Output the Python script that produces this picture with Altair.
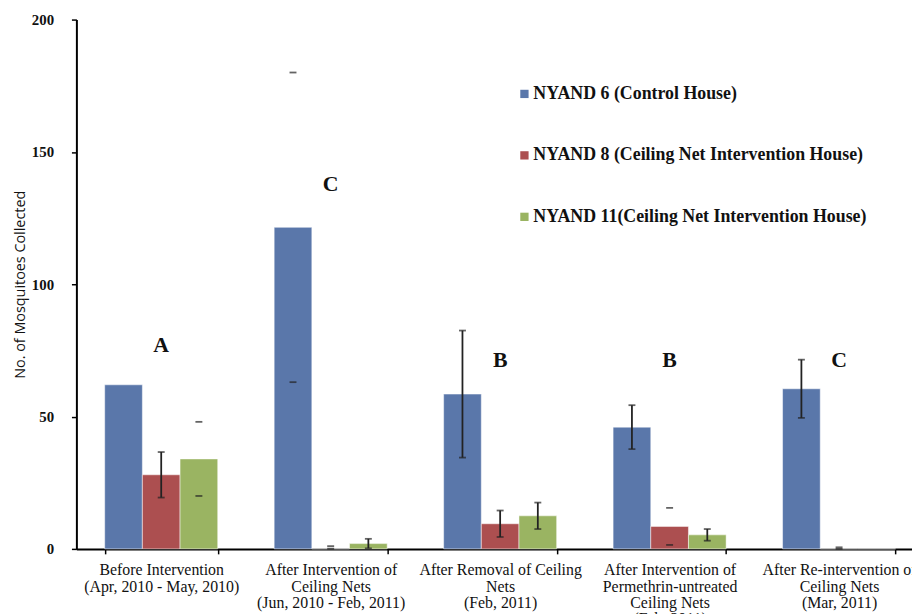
import altair as alt
import pandas as pd

categories = [
    ["Before Intervention", "(Apr, 2010 - May, 2010)"],
    ["After Intervention of", "Ceiling Nets", "(Jun, 2010 - Feb, 2011)"],
    ["After Removal of Ceiling", "Nets", "(Feb, 2011)"],
    ["After Intervention of", "Permethrin-untreated", "Ceiling Nets", "(Feb, 2011)"],
    ["After Re-intervention of", "Ceiling Nets", "(Mar, 2011)"],
]
cat_keys = ["c1", "c2", "c3", "c4", "c5"]
series = [
    "NYAND 6 (Control House)",
    "NYAND 8 (Ceiling Net Intervention House)",
    "NYAND 11(Ceiling Net Intervention House)",
]
colors = ["#5A77AA", "#AC4F50", "#9AB462"]

control = [62, 121.5, 58.5, 46, 60.5]
control_err = [0, 58.5, 24, 8.3, 11]
house8 = [28, 0, 9.5, 8.5, 0]
house8_err = [8.6, 1, 5, 7, 0.6]
house11 = [34, 2, 12.5, 5.3, 0]
house11_err = [14, 1.8, 5, 2.2, 0]
whisker_drawn = [
    [False, False, True, True, True],
    [True, False, True, False, False],
    [False, True, True, True, False],
]

letters = ["A", "C", "B", "B", "C"]
letter_y = [77, 138, 71.5, 71.5, 71.5]

rows = []
for si, (vals, errs) in enumerate([(control, control_err), (house8, house8_err), (house11, house11_err)]):
    for ci in range(5):
        rows.append({
            "cat": cat_keys[ci], "series": series[si], "order": si,
            "value": vals[ci], "lo": max(vals[ci] - errs[ci], 0), "hi": vals[ci] + errs[ci],
            "err": errs[ci], "line": whisker_drawn[si][ci],
        })
df = pd.DataFrame(rows)
ann = pd.DataFrame({"cat": cat_keys, "txt": letters, "y": letter_y})

label_expr = "{" + ",".join(
    f"'{k}': [" + ",".join(f"'{l}'" for l in lines) + "]" for k, lines in zip(cat_keys, categories)
) + "}[datum.value]"

xscale = alt.Scale(domain=cat_keys, range=[0, 855], paddingInner=0.333, paddingOuter=0.167)
x = alt.X("cat:N", sort=cat_keys, title=None, scale=xscale,
          axis=alt.Axis(labelExpr=label_expr, labelAngle=0, tickBand="extent",
                        labelFont="Liberation Serif", labelFontSize=16, labelLineHeight=16.5,
                        labelColor="#111", domainColor="#000", domainWidth=2,
                        tickColor="#000", tickSize=5, tickWidth=1.5, labelPadding=8,
                        labelBaseline="top"))
y = alt.Y("value:Q", title="No. of Mosquitoes Collected",
          scale=alt.Scale(domain=[0, 200], nice=False),
          axis=alt.Axis(values=[0, 50, 100, 150, 200], grid=False, domainColor="#000",
                        domainWidth=2, tickColor="#000", tickSize=5, tickWidth=1.5,
                        labelPadding=18, labelFont="Liberation Serif", labelFontWeight="bold",
                        labelFontSize=15, labelColor="#111", titleFont="Open Sans",
                        titleFontWeight="normal", titleFontSize=14.5, titleColor="#111",
                        titlePadding=4))
xo = alt.XOffset("series:N", sort=series, scale=alt.Scale(paddingInner=0, paddingOuter=0))
color = alt.Color("series:N", sort=series, scale=alt.Scale(domain=series, range=colors),
                  legend=alt.Legend(title=None, orient="none", legendX=443, legendY=66,
                                    symbolType="square", symbolSize=70, symbolStrokeWidth=0,
                                    rowPadding=44, labelFont="Liberation Serif",
                                    labelFontSize=18, labelFontWeight="bold", labelColor="#111",
                                    labelLimit=600, labelOffset=0, symbolOffset=0, padding=0))

bars = alt.Chart(df).mark_bar(stroke="white", strokeWidth=0.5).encode(
    x=x, xOffset=xo, y=y, color=color)

errdf = alt.Chart(df).transform_filter("datum.err > 0")
whisk = errdf.transform_filter("datum.line").mark_rule(color="#222", strokeWidth=1.8).encode(
    x=x, xOffset=xo, y="lo:Q", y2="hi:Q")
cap_hi = errdf.mark_tick(color="#222", thickness=1.8, size=7, orient="horizontal").encode(
    x=x, xOffset=xo, y="hi:Q")
cap_lo = errdf.mark_tick(color="#222", thickness=1.8, size=7, orient="horizontal").encode(
    x=x, xOffset=xo, y="lo:Q")

txt = alt.Chart(ann).mark_text(font="Liberation Serif", fontWeight="bold", fontSize=22,
                               color="#111").encode(x=alt.X("cat:N", sort=cat_keys, scale=xscale),
                                                    y="y:Q", text="txt:N")

chart = alt.layer(bars, whisk, cap_hi, cap_lo, txt).properties(
    width=843, height=534,
    autosize=alt.AutoSizeParams(type="none"),
    padding={"left": 69, "top": 9, "right": 0, "bottom": 63},
).configure_view(stroke=None)

chart.save("out.html", embed_options={"renderer": "svg", "actions": False})
